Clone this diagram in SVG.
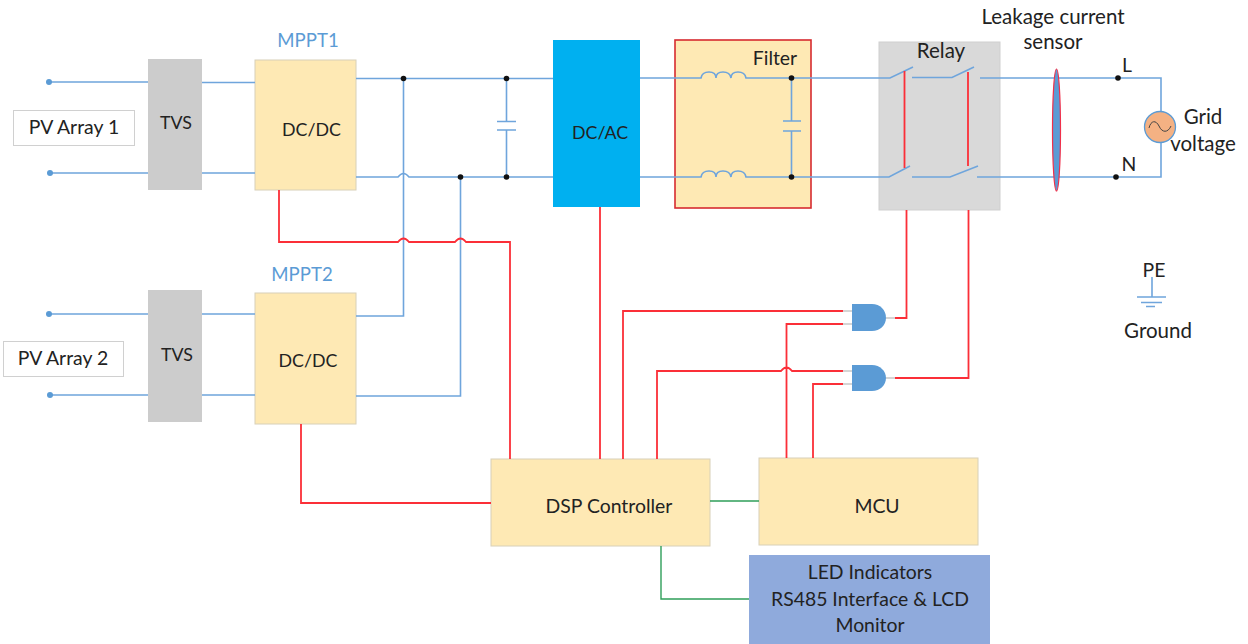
<svg xmlns="http://www.w3.org/2000/svg" width="1248" height="644" viewBox="0 0 1248 644">
<style>
text{font-family:"Lato","Liberation Sans",sans-serif;font-size:19.400px;fill:#222;text-anchor:middle}
.b{fill:none;stroke:#6fa5dc;stroke-width:1.6}
.r{fill:none;stroke:#fb2f38;stroke-width:1.8}
.g{fill:none;stroke:#2f9e5a;stroke-width:1.4}
.l{fill:none;stroke:#c8c8c8;stroke-width:1.5}
.y{fill:#fee9b4;stroke:#d8d0b8;stroke-width:1}
.t{fill:#cccccc}
.d{fill:#111}
.p{fill:#5b9bd5}
.m{fill:#5b9bd5;font-size:18.600px}
.s{font-size:17.800px}
.w{font-size:20.500px}
</style>
<rect width="1248" height="644" fill="#fff"/>
<g id="filter"><rect x="675" y="40" width="136" height="168" fill="#fee9b4" stroke="#d62b30" stroke-width="1.6"/><text x="775" y="65">Filter</text></g>
<g id="relay"><rect x="879" y="42" width="121" height="168" fill="#d9d9d9" stroke="#cfcfcf"/><text class="w" x="941" y="58">Relay</text></g>
<g id="tvs1"><rect class="t" x="148" y="59" width="54" height="131"/><text class="s" x="176" y="129">TVS</text></g>
<g id="tvs2"><rect class="t" x="148" y="290" width="54" height="132"/><text class="s" x="177" y="361">TVS</text></g>
<g id="dcdc1"><rect class="y" x="255" y="60" width="101" height="130"/><text class="s" x="311.500" y="136">DC/DC</text></g>
<g id="dcdc2"><rect class="y" x="255" y="293" width="101" height="131"/><text class="s" x="308" y="367">DC/DC</text></g>
<g id="dcac"><rect x="553" y="40" width="87" height="167" fill="#00b0f0"/><text class="s" x="600" y="139">DC/AC</text></g>
<g id="dsp"><rect class="y" x="491" y="459" width="219" height="87"/><text x="609" y="513">DSP Controller</text></g>
<g id="mcu"><rect class="y" x="759" y="458" width="219" height="87"/><text x="877" y="513">MCU</text></g>
<g id="led"><rect x="749" y="555" width="241" height="89" fill="#8faadc"/><text x="870" y="579">LED Indicators</text><text x="870" y="606">RS485 Interface &amp; LCD</text><text x="870" y="632">Monitor</text></g>
<g id="pv1"><rect x="13.500" y="110.500" width="121" height="35" fill="#fff" stroke="#d0d0d0"/><text x="74" y="134">PV Array 1</text></g>
<g id="pv2"><rect x="3.500" y="341.500" width="120" height="35" fill="#fff" stroke="#d0d0d0"/><text x="63" y="365">PV Array 2</text></g>
<g id="mppt1"><text class="m" x="308" y="47">MPPT1</text></g>
<g id="mppt2"><text class="m" x="302" y="281">MPPT2</text></g>
<g id="connectors">
<path class="b" d="M49 82H148M202 82.500H255M50 173H148M202 173H255"/>
<path class="b" d="M49 314H148M202 314H255M50 395H148M202 395H255"/>
<path class="b" d="M356 78.500H553M356 177H398Q403.500 170 409 177H553"/>
<path class="b" d="M403.500 78.500V316H356M460.500 177V396H356"/>
<path class="b" d="M506.500 78.500V121.500M497 121.500H516M497 130H516M506.500 130V177"/>
<path class="b" d="M640 78H701Q702 72 709 72Q716 72 716 78Q716 72 723 72Q730 72 731 78Q731 72 738 72Q745 72 746 78H890L913 67M912 77.500H952L974 67M980 78H1161V111M1161 143V177H977M978 166L950 177H912M910 166L889 177H746Q745 171 738 171Q731 171 731 177Q730 171 723 171Q716 171 716 177Q716 171 709 171Q702 171 701 177H640"/>
<path class="b" d="M791.500 78V121M783 121H801M783 131H801M791.500 131V177"/>
<path class="r" d="M279 190V242H398Q403.500 235 409 242H455Q460.500 235 466 242H510V459"/>
<path class="r" d="M301 424V503H491M600 207V459M623 459V311H843M657 459V371H781Q786.500 364 792 371H843M786.500 458V324H843M813 458V384H843"/>
<path class="r" d="M895 318H906.500V210M895 378H968.500V210"/>
<path class="r" d="M904.500 71V168M968 72V166"/>
<path class="l" d="M843 311H852M843 324H852M886 318H895M843 371H852M843 384H852M886 378H895"/>
<path class="g" d="M710 501H759M661 546V599H749"/>
</g>
<g id="gate1"><path class="p" d="M852 304H872C880 304 886 310 886 318C886 325 880 331 872 331H852Z"/></g>
<g id="gate2"><path class="p" d="M852 365H872C880 365 886 371 886 378C886 385 880 391 872 391H852Z"/></g>
<g id="junctions">
<circle class="p" cx="49" cy="82" r="3"/><circle class="p" cx="50" cy="173" r="3"/><circle class="p" cx="49" cy="314" r="3"/><circle class="p" cx="50" cy="395" r="3"/>
<circle class="d" cx="403.500" cy="78.500" r="2.800"/><circle class="d" cx="506.500" cy="78.500" r="2.800"/><circle class="d" cx="460.500" cy="177" r="2.800"/><circle class="d" cx="506.500" cy="177" r="2.800"/><circle class="d" cx="791.500" cy="78" r="2.800"/><circle class="d" cx="791.500" cy="177" r="2.800"/><circle class="d" cx="1118" cy="78" r="2.800"/><circle class="d" cx="1116" cy="177" r="2.800"/>
</g>
<g id="sensor"><ellipse cx="1056.500" cy="130" rx="4" ry="61" class="p" stroke="#f0304a" stroke-width="1.200"/><text class="w" x="1053" y="24">Leakage current</text><text class="w" x="1053" y="49">sensor</text></g>
<g id="line-labels"><text x="1127" y="72">L</text><text x="1129" y="171">N</text></g>
<g id="grid"><circle cx="1160" cy="127" r="15.500" fill="#f4b183" stroke="#5b9bd5" stroke-width="1.300"/><path d="M1149 128C1151 120 1156 120 1159 126C1162 133 1168 133 1171 126" fill="none" stroke="#444" stroke-width="1"/><text class="w" x="1203" y="124">Grid</text><text class="w" x="1203" y="151">voltage</text></g>
<g id="ground"><path class="b" d="M1152 277V297M1137 297H1166M1141 302.500H1162M1146 306.500H1155"/><text x="1154" y="277">PE</text><text class="w" x="1158" y="338">Ground</text></g>
</svg>
